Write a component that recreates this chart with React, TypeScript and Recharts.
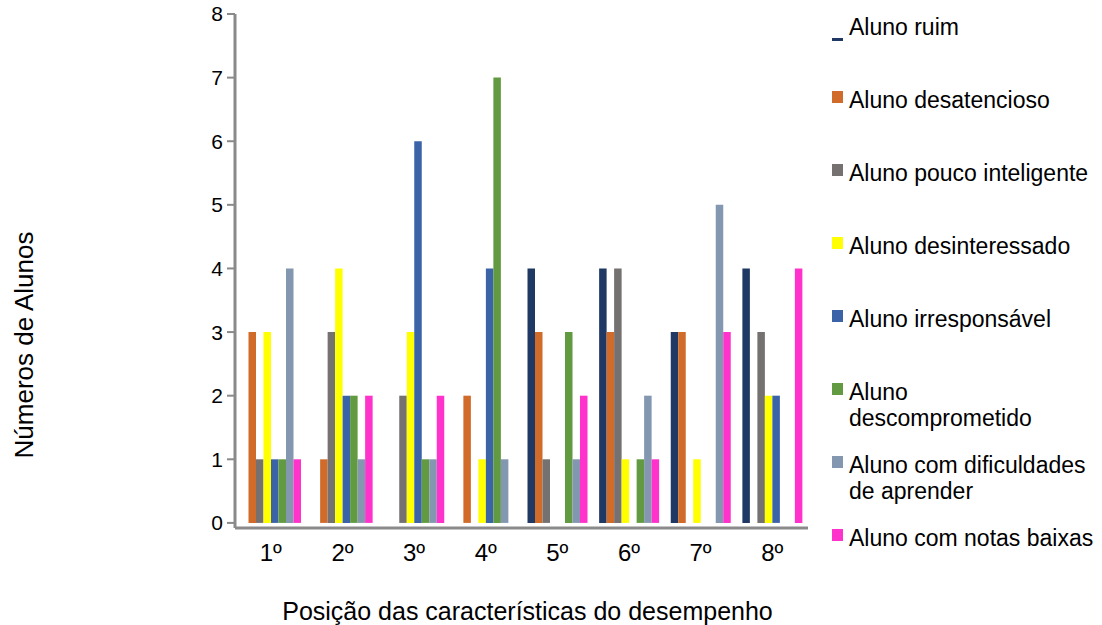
import React from 'react';
import { BarChart, Bar, XAxis, YAxis, Label } from 'recharts';

// posição (1º..8º) no eixo x
const positions = ['1º', '2º', '3º', '4º', '5º', '6º', '7º', '8º'];

const seriesNames = [
  'Aluno ruim',
  'Aluno desatencioso',
  'Aluno pouco inteligente',
  'Aluno desinteressado',
  'Aluno irresponsável',
  'Aluno descomprometido',
  'Aluno com dificuldades de aprender',
  'Aluno com notas baixas',
];
const seriesColors = ['#203864', '#D06B2A', '#767171', '#FFFF00', '#3A63A8', '#629A41', '#8497B0', '#FF33CC'];

const alunoRuim = [0, 0, 0, 0, 4, 4, 3, 4];
const alunoDesatencioso = [3, 1, 0, 2, 3, 3, 3, 0];
const alunoPoucoInteligente = [1, 3, 2, 0, 1, 4, 0, 3];
const alunoDesinteressado = [3, 4, 3, 1, 0, 1, 1, 2];
const alunoIrresponsavel = [1, 2, 6, 4, 0, 0, 0, 2];
const alunoDescomprometido = [1, 2, 1, 7, 3, 1, 0, 0];
const alunoDificuldades = [4, 1, 1, 1, 1, 2, 5, 0];
const alunoNotasBaixas = [1, 2, 2, 0, 2, 1, 3, 4];

const yTicks = [0, 1, 2, 3, 4, 5, 6, 7, 8];

const seriesValues = [
  alunoRuim, alunoDesatencioso, alunoPoucoInteligente, alunoDesinteressado,
  alunoIrresponsavel, alunoDescomprometido, alunoDificuldades, alunoNotasBaixas,
];

const data = positions.map((pos, i) => {
  const row: Record<string, string | number> = { pos };
  seriesValues.forEach((vals, s) => { row['s' + s] = vals[i]; });
  return row;
});

const FONT = "'Liberation Sans', Arial, sans-serif";
const AXIS_GRAY = '#8a8a8a';

// legenda à direita, uma linha de 73px por série
function SeriesLegend() {
  return (
    <div
      style={{
        position: 'absolute', left: 832, top: 14, width: 270,
        fontFamily: FONT, fontSize: 23, lineHeight: '26px', color: '#000',
      }}
    >
      {seriesNames.map((name, i) => (
        <div key={name} style={{ position: 'relative', height: 73 }}>
          {i === 0 ? (
            <span style={{ position: 'absolute', left: 0, top: 24, width: 11, height: 3, background: seriesColors[i] }} />
          ) : (
            <span style={{ position: 'absolute', left: 0, top: 4, width: 11, height: 12, background: seriesColors[i] }} />
          )}
          <div style={{ position: 'absolute', left: 17, top: 0, width: 246 }}>{name}</div>
        </div>
      ))}
    </div>
  );
}

export default function App() {
  return (
    <div style={{ position: 'absolute', left: 0, top: 0, width: 1102, height: 625, background: '#fff' }}>
      <BarChart
        width={1102}
        height={625}
        data={data}
        margin={{ top: 14, right: 294, bottom: 37, left: 0 }}
        barGap={0}
        barSize={7.5}
      >
        <XAxis
          dataKey="pos"
          height={60}
          axisLine={{ stroke: AXIS_GRAY, strokeWidth: 3 }}
          tickLine={false}
          tickSize={0}
          tickMargin={16}
          tick={{ fontSize: 24, fill: '#000', fontFamily: FONT }}
          interval={0}
        >
          <Label
            value="Posição das características do desempenho"
            position="bottom"
            offset={14}
            dx={6}
            fontSize={25}
            fill="#000"
            fontFamily={FONT}
          />
        </XAxis>
        <YAxis
          width={235}
          type="number"
          domain={[-0.08, 8]}
          allowDataOverflow
          ticks={yTicks}
          interval={0}
          axisLine={{ stroke: AXIS_GRAY, strokeWidth: 3 }}
          tickLine={{ stroke: AXIS_GRAY, strokeWidth: 2 }}
          tickSize={8}
          tickMargin={4}
          tick={{ fontSize: 21, fill: '#000', fontFamily: FONT }}
        >
          <Label
            content={() => (
              <text
                x={33}
                y={345}
                transform="rotate(-90 33 345)"
                textAnchor="middle"
                fontSize={26}
                fill="#000"
                fontFamily={FONT}
              >
                Números de Alunos
              </text>
            )}
          />
        </YAxis>
        {seriesNames.map((name, s) => (
          <Bar key={name} dataKey={'s' + s} name={name} fill={seriesColors[s]} isAnimationActive={false} />
        ))}
      </BarChart>
      <SeriesLegend />
    </div>
  );
}
